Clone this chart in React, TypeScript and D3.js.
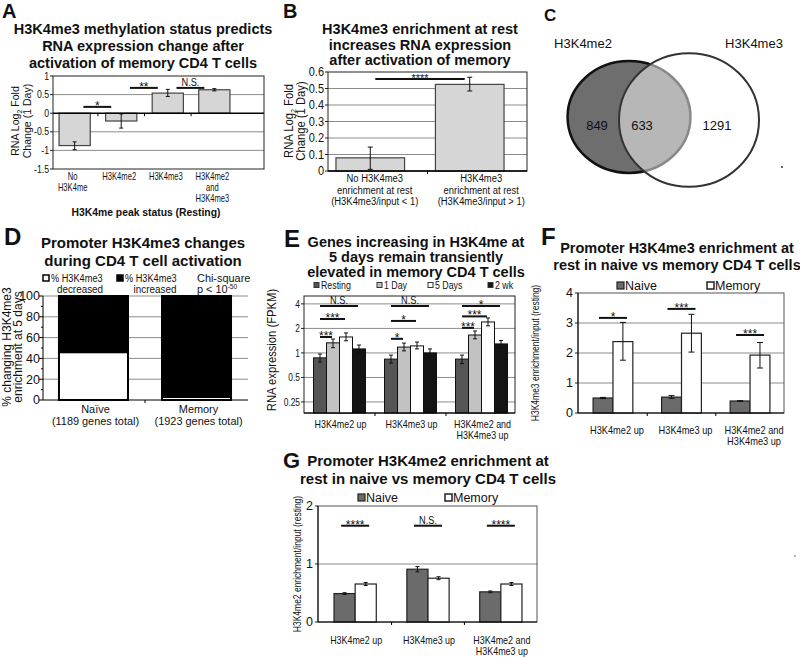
import React from "react";
import * as d3 from "d3";

const SANS = "'Liberation Sans', Arial, Helvetica, sans-serif";
const AXIS = "#222";
const GRID = "#8c8c8c";

// ---------------- Panel A ----------------
const aTitle = ["H3K4me3 methylation status predicts", "RNA expression change after", "activation of memory CD4 T cells"];
const aCategories = ["No H3K4me", "H3K4me2", "H3K4me3", "H3K4me2 and H3K4me3"];
const aCategoryLines = [["No", "H3K4me"], ["H3K4me2"], ["H3K4me3"], ["H3K4me2", "and", "H3K4me3"]];
const aValues = [-0.87, -0.21, 0.54, 0.63];
const aErrLow = [-0.98, -0.4, 0.45, 0.6];
const aErrHigh = [-0.77, -0.02, 0.64, 0.66];
const aTicks = [1, 0.5, 0, -0.5, -1, -1.5];
const aGrid = [0.5, -0.5, -1];
const aSigFrom = [0, 1, 2];
const aSigTo = [1, 2, 3];
const aSigLevel = [0.17, 0.68, 0.68];
const aSigLabel = ["*", "**", "N.S."];

// ---------------- Panel B ----------------
const bTitle = ["H3K4me3 enrichment at rest", "increases RNA expression", "after activation of memory"];
const bCategories = ["below", "above"];
const bCategoryLines = [
  ["No H3K4me3", "enrichment at rest", "(H3K4me3/input < 1)"],
  ["H3K4me3", "enrichment at rest", "(H3K4me3/input > 1)"],
];
const bValues = [0.08, 0.525];
const bErrLow = [0.01, 0.485];
const bErrHigh = [0.145, 0.568];
const bTicks = [0, 0.1, 0.2, 0.3, 0.4, 0.5, 0.6];
const bSigLevel = [0.557];
const bSigLabel = ["****"];

// ---------------- Panel C ----------------
const vennSetNames = ["H3K4me2", "H3K4me3"];
const vennRegionCounts = [849, 633, 1291];

// ---------------- Panel D ----------------
const dTitle = ["Promoter H3K4me3 changes", "during CD4 T cell activation"];
const dCategories = ["Naïve", "Memory"];
const dGeneTotals = [1189, 1923];
const dDecreased = [46, 3];
const dIncreased = [54, 97];
const dTicks = [0, 20, 40, 60, 80, 100];

// ---------------- Panel E ----------------
const eTitle = ["Genes increasing in H3K4me at", "5 days remain transiently", "elevated in memory CD4 T cells"];
const eGroups = ["H3K4me2 up", "H3K4me3 up", "H3K4me2 and H3K4me3 up"];
const eGroupLines = [["H3K4me2 up"], ["H3K4me3 up"], ["H3K4me2 and", "H3K4me3 up"]];
const eSeries = ["Resting", "1 Day", "5 Days", "2 wk"];
const eResting = [0.87, 0.84, 0.84];
const eRestingLow = [0.77, 0.75, 0.74];
const eRestingHigh = [0.97, 0.94, 0.94];
const eDay1 = [1.33, 1.18, 1.66];
const eDay1Low = [1.16, 1.06, 1.49];
const eDay1High = [1.48, 1.32, 1.86];
const eDay5 = [1.57, 1.22, 2.4];
const eDay5Low = [1.41, 1.12, 2.15];
const eDay5High = [1.76, 1.36, 2.69];
const eWeek2 = [1.12, 1.0, 1.29];
const eWeek2Low = [1.0, 0.89, 1.15];
const eWeek2High = [1.25, 1.12, 1.42];
const eTicks = [4, 2, 1, 0.5, 0.25];
const eSigGroup = [0, 0, 0, 1, 1, 1, 2, 2, 2];
const eSigTo = [3, 2, 1, 3, 2, 1, 3, 2, 1];
const eSigLevel = [3.78, 2.61, 1.57, 3.78, 2.47, 1.49, 3.78, 2.81, 2.03];
const eSigLabel = ["N.S.", "***", "***", "N.S.", "*", "*", "*", "***", "***"];

// ---------------- Panel F ----------------
const fTitle = ["Promoter H3K4me3 enrichment at", "rest in naive vs memory CD4 T cells"];
const fSeries = ["Naive", "Memory"];
const fNaive = [0.5, 0.53, 0.4];
const fNaiveLow = [0.48, 0.49, 0.39];
const fNaiveHigh = [0.52, 0.58, 0.41];
const fMemory = [2.38, 2.66, 1.93];
const fMemoryLow = [1.76, 2.03, 1.5];
const fMemoryHigh = [3.02, 3.29, 2.35];
const fTicks = [0, 1, 2, 3, 4];
const fSigLevel = [3.17, 3.47, 2.6];
const fSigLabel = ["*", "***", "***"];

// ---------------- Panel G ----------------
const gTitle = ["Promoter H3K4me2 enrichment at", "rest in naive vs memory CD4 T cells"];
const gNaive = [0.49, 0.91, 0.52];
const gNaiveLow = [0.475, 0.865, 0.505];
const gNaiveHigh = [0.505, 0.955, 0.535];
const gMemory = [0.655, 0.755, 0.655];
const gMemoryLow = [0.63, 0.73, 0.63];
const gMemoryHigh = [0.68, 0.78, 0.68];
const gTicks = [0, 1, 2];
const gSigLevel = [1.66, 1.66, 1.66];
const gSigLabel = ["****", "N.S.", "****"];

function T({ x, y, children, size = 11, anchor = "start", sx = 1, bold = false, rotate = false, dy }: any) {
  const tr = `translate(${x},${y})` + (rotate ? " rotate(-90)" : "") + (sx !== 1 ? ` scale(${sx},1)` : "");
  return (
    <text transform={tr} textAnchor={anchor} fontSize={size} fontFamily={SANS} fontWeight={bold ? "bold" : undefined} dy={dy} fill="#111">
      {children}
    </text>
  );
}

function ErrorBar({ x, y1, y2, cap = 4 }: { x: number; y1: number; y2: number; cap?: number }) {
  return (
    <g stroke="#111" strokeWidth={1}>
      <line x1={x} x2={x} y1={y1} y2={y2} />
      <line x1={x - cap / 2} x2={x + cap / 2} y1={y1} y2={y1} />
      <line x1={x - cap / 2} x2={x + cap / 2} y1={y2} y2={y2} />
    </g>
  );
}

function Sig({ x1, x2, y, label, size = 12 }: { x1: number; x2: number; y: number; label: string; size?: number }) {
  const star = label.indexOf("*") >= 0;
  return (
    <g>
      <line x1={x1} x2={x2} y1={y} y2={y} stroke="#111" strokeWidth={2} />
      {star ? (
        <T x={(x1 + x2) / 2} y={y + 3} anchor="middle" size={size}>{label}</T>
      ) : (
        <T x={(x1 + x2) / 2} y={y - 2} anchor="middle" size={size - 0.5} sx={0.8}>{label}</T>
      )}
    </g>
  );
}

function Title({ lines, cx, y0, dy, size }: { lines: string[]; cx: number; y0: number; dy: number; size: number }) {
  return (
    <g>
      {lines.map((t, i) => (
        <T key={i} x={cx} y={y0 + i * dy} anchor="middle" bold size={size}>{t}</T>
      ))}
    </g>
  );
}

function PanelA() {
  const left = 53, right = 264;
  const x = d3.scaleBand<string>().domain(aCategories).range([53, 236]).paddingInner(0.33).paddingOuter(0.13);
  const y = d3.scaleLinear().domain([-1.5, 1]).range([169, 76]);
  const bw = x.bandwidth();
  const top = y(1), bottom = y(-1.5);
  return (
    <g>
      <T x={2} y={18} bold size={20}>A</T>
      <Title lines={aTitle} cx={143} y0={33.5} dy={17.2} size={14.5} />
      {aGrid.map((v) => (
        <line key={v} x1={left} x2={right} y1={y(v)} y2={y(v)} stroke={GRID} />
      ))}
      <rect x={left} y={top} width={right - left} height={bottom - top} fill="none" stroke={AXIS} />
      {aTicks.map((t) => (
        <g key={t}>
          <line x1={left - 3} x2={left} y1={y(t)} y2={y(t)} stroke={AXIS} />
          <T x={left - 4} y={y(t)} dy="0.35em" anchor="end" size={10.5} sx={0.83}>{String(t)}</T>
        </g>
      ))}
      {aCategories.map((c, i) => {
        const v = aValues[i];
        const x0 = x(c)!;
        return (
          <g key={c}>
            <rect x={x0} y={Math.min(y(0), y(v))} width={bw} height={Math.abs(y(v) - y(0))} fill="#d6d6d6" stroke="#444" strokeWidth={1.2} />
            <ErrorBar x={x0 + bw / 2} y1={y(aErrLow[i])} y2={y(aErrHigh[i])} cap={4} />
          </g>
        );
      })}
      <line x1={left} x2={right} y1={y(0)} y2={y(0)} stroke="#000" strokeWidth={1.5} />
      {aCategories.slice(1).map((c) => {
        const bx = x(c)! - (x.step() - bw) / 2;
        return <line key={c} x1={bx} x2={bx} y1={y(0)} y2={y(0) + 3} stroke="#000" />;
      })}
      {aCategoryLines.map((lines, i) =>
        lines.map((t, j) => (
          <T key={i + "-" + j} x={x(aCategories[i])! + bw / 2 - 2} y={180 + j * 10.8} anchor="middle" size={10} sx={0.76}>{t}</T>
        ))
      )}
      {aSigFrom.map((f, i) => (
        <Sig
          key={i}
          x1={x(aCategories[f])! + bw * 0.78}
          x2={x(aCategories[aSigTo[i]])! + bw * 0.18}
          y={y(aSigLevel[i])}
          label={aSigLabel[i]}
          size={12}
        />
      ))}
      <T x={19} y={121} rotate anchor="middle" size={11.5} sx={0.92}>
        RNA Log<tspan dy={3} fontSize={7.5}>2</tspan>
        <tspan dy={-3}> Fold</tspan>
      </T>
      <T x={31} y={121} rotate anchor="middle" size={11.5} sx={0.92}>Change (1 Day)</T>
      <T x={146} y={216} anchor="middle" bold size={11.5} sx={0.9}>H3K4me peak status (Resting)</T>
    </g>
  );
}

function PanelB() {
  const left = 328, right = 527;
  const x = d3.scaleBand<string>().domain(bCategories).range([328, 512]).paddingInner(0.31).paddingOuter(0.08);
  const xl = d3.scaleBand<string>().domain(bCategories).range([left, right]);
  const y = d3.scaleLinear().domain([0, 0.6]).range([171, 72]);
  const bw = x.bandwidth();
  return (
    <g>
      <T x={283} y={18} bold size={20}>B</T>
      <Title lines={bTitle} cx={420} y0={34} dy={15.5} size={14.5} />
      {bTicks.slice(1, -1).map((v) => (
        <line key={v} x1={left} x2={right} y1={y(v)} y2={y(v)} stroke={GRID} />
      ))}
      <rect x={left} y={y(0.6)} width={right - left} height={y(0) - y(0.6)} fill="none" stroke={AXIS} />
      {bTicks.map((t) => (
        <g key={t}>
          <line x1={left - 3} x2={left} y1={y(t)} y2={y(t)} stroke={AXIS} />
          <T x={left - 4} y={y(t)} dy="0.35em" anchor="end" size={12.5} sx={0.88}>{String(t)}</T>
        </g>
      ))}
      {bCategories.map((c, i) => (
        <g key={c}>
          <rect x={x(c)!} y={y(bValues[i])} width={bw} height={y(0) - y(bValues[i])} fill="#d6d6d6" stroke="#444" strokeWidth={1.2} />
          <ErrorBar x={x(c)! + bw / 2} y1={y(bErrLow[i])} y2={y(bErrHigh[i])} cap={5} />
        </g>
      ))}
      <line x1={left} x2={right} y1={y(0)} y2={y(0)} stroke="#000" strokeWidth={1.3} />
      <line x1={xl("above")!} x2={xl("above")!} y1={y(0)} y2={y(0) + 3} stroke="#000" />
      {bCategoryLines.map((lines, i) =>
        lines.map((t, j) => (
          <T key={i + "-" + j} x={xl(bCategories[i])! + xl.bandwidth() / 2 + (i === 0 ? -3 : 4)} y={182 + j * 11.5} anchor="middle" size={11.5} sx={0.82}>{t}</T>
        ))
      )}
      <Sig x1={x("below")! + bw / 2 + 5} x2={x("above")! + bw / 2 - 5} y={y(bSigLevel[0])} label={bSigLabel[0]} size={11} />
      <T x={293} y={121} rotate anchor="middle" size={12.5} sx={0.9}>
        RNA Log<tspan dy={3} fontSize={8}>2</tspan>
        <tspan dy={-3}> Fold</tspan>
      </T>
      <T x={305} y={121} rotate anchor="middle" size={12.5} sx={0.9}>Change (1 Day)</T>
    </g>
  );
}

function PanelC() {
  const totals = [vennRegionCounts[0] + vennRegionCounts[1], vennRegionCounts[1] + vennRegionCounts[2]];
  const r = d3.scaleSqrt().domain([0, d3.max(totals)!]).range([0, 70]);
  const rl = r(totals[0]), rr = r(totals[1]);
  return (
    <g>
      <T x={544} y={21} bold size={17}>C</T>
      <T x={583} y={48} anchor="middle" size={13}>{vennSetNames[0]}</T>
      <T x={754} y={48} anchor="middle" size={13}>{vennSetNames[1]}</T>
      <ellipse cx={629} cy={117} rx={rl} ry={rl * 0.91} fill="#6e6e6e" stroke="#111" strokeWidth={2.5} />
      <ellipse cx={689} cy={120} rx={rr} ry={rr * 0.955} fill="#fff" fillOpacity={0.5} stroke="#333" strokeWidth={2} />
      <T x={597} y={129.5} anchor="middle" size={13}>{vennRegionCounts[0]}</T>
      <T x={642} y={129.5} anchor="middle" size={13}>{vennRegionCounts[1]}</T>
      <T x={717} y={129.5} anchor="middle" size={13}>{vennRegionCounts[2]}</T>
      <circle cx={782} cy={167} r={1} fill="#333" />
    </g>
  );
}

function PanelD() {
  const left = 43, right = 248;
  const x = d3.scaleBand<string>().domain(dCategories).range([43, 247]).paddingInner(0.33).paddingOuter(0.155);
  const y = d3.scaleLinear().domain([0, 100]).range([400, 296]);
  const bw = x.bandwidth();
  const minor = d3.range(0, 101, 10);
  return (
    <g>
      <T x={4} y={245} bold size={24}>D</T>
      <Title lines={dTitle} cx={143} y0={248} dy={17.5} size={15} />
      <rect x={43} y={275} width={6} height={6} fill="#fff" stroke="#000" strokeWidth={1.5} />
      <T x={51} y={281.5} size={11.5} sx={0.8}>% H3K4me3</T>
      <T x={80} y={293} anchor="middle" size={11.5} sx={0.86}>decreased</T>
      <rect x={117} y={275} width={6} height={6} fill="#000" stroke="#000" strokeWidth={1.5} />
      <T x={125} y={281.5} size={11.5} sx={0.8}>% H3K4me3</T>
      <T x={155} y={293} anchor="middle" size={11.5} sx={0.86}>increased</T>
      <T x={197} y={281.5} size={11.5} sx={0.95}>Chi-square</T>
      <T x={197} y={293} size={11.5} sx={0.95}>
        p &lt; 10<tspan dy={-4} fontSize={7}>-50</tspan>
      </T>
      {dTicks.slice(1).map((v) => (
        <line key={v} x1={left} x2={right} y1={y(v)} y2={y(v)} stroke={GRID} />
      ))}
      {dCategories.map((c, i) => (
        <g key={c}>
          <rect x={x(c)!} y={y(dDecreased[i])} width={bw} height={y(0) - y(dDecreased[i])} fill="#fff" stroke="#000" strokeWidth={2} />
          <rect x={x(c)!} y={y(100)} width={bw} height={y(dDecreased[i]) - y(100)} fill="#000" stroke="#000" strokeWidth={2} />
        </g>
      ))}
      <line x1={left} x2={left} y1={y(0)} y2={y(100)} stroke="#000" />
      <line x1={left} x2={right} y1={y(0)} y2={y(0)} stroke="#000" />
      <line x1={x("Memory")! - (x.step() - bw) / 2} x2={x("Memory")! - (x.step() - bw) / 2} y1={y(0)} y2={y(0) + 3} stroke="#000" />
      {minor.map((t) => (
        <line key={t} x1={left - (t % 20 === 0 ? 4 : 2)} x2={left} y1={y(t)} y2={y(t)} stroke="#000" />
      ))}
      {dTicks.map((t) => (
        <T key={t} x={left - 3} y={y(t)} dy="0.35em" anchor="end" size={12.5}>{t}</T>
      ))}
      {dCategories.map((c, i) => (
        <g key={c}>
          <T x={x(c)! + bw / 2 + 2} y={413} anchor="middle" size={11.5} sx={0.95}>{c}</T>
          <T x={x(c)! + bw / 2 + 2} y={425} anchor="middle" size={11.5} sx={0.95}>
            ({dGeneTotals[i]} genes total)
          </T>
        </g>
      ))}
      <T x={10.5} y={347} rotate anchor="middle" size={12}>% changing H3K4me3</T>
      <T x={22} y={347} rotate anchor="middle" size={12}>enrichment at 5 days</T>
    </g>
  );
}

function PanelE() {
  const left = 304, right = 515, top = 296, bottom = 413;
  const x0 = d3.scaleBand<string>().domain(eGroups).range([304, 517]).paddingInner(0.268).paddingOuter(0.134);
  const x1 = d3.scaleBand<string>().domain(eSeries).range([0, x0.bandwidth()]);
  const y = d3.scaleLog().base(2).domain([0.183, 5.0]).range([bottom, top]);
  const vals = [eResting, eDay1, eDay5, eWeek2];
  const lows = [eRestingLow, eDay1Low, eDay5Low, eWeek2Low];
  const highs = [eRestingHigh, eDay1High, eDay5High, eWeek2High];
  const fills = ["#555", "#c2c2c2", "#fff", "#141414"];
  const bw = x1.bandwidth();
  const legendX = [314, 377, 428, 488];
  return (
    <g>
      <T x={284} y={247} bold size={24}>E</T>
      <Title lines={eTitle} cx={416} y0={246.5} dy={15} size={14.5} />
      {eSeries.map((s, i) => (
        <g key={s}>
          <rect x={legendX[i]} y={282.5} width={5} height={5} fill={fills[i]} stroke="#333" strokeWidth={1} />
          <T x={legendX[i] + 7} y={289} size={11} sx={0.8}>{s}</T>
        </g>
      ))}
      {eTicks.map((v) => (
        <line key={v} x1={left} x2={right} y1={y(v)} y2={y(v)} stroke={GRID} />
      ))}
      <rect x={left} y={top} width={right - left} height={bottom - top} fill="none" stroke={AXIS} />
      {eTicks.map((t) => (
        <g key={t}>
          <line x1={left - 3} x2={left} y1={y(t)} y2={y(t)} stroke={AXIS} />
          <T x={left - 4} y={y(t)} dy="0.35em" anchor="end" size={10.5} sx={0.8}>{String(t)}</T>
        </g>
      ))}
      {eGroups.map((g, gi) =>
        eSeries.map((s, si) => {
          const bx = x0(g)! + x1(s)!;
          const v = vals[si][gi];
          return (
            <g key={g + s}>
              <rect x={bx} y={y(v)} width={bw} height={bottom - y(v)} fill={fills[si]} stroke="#111" strokeWidth={1} />
              <ErrorBar x={bx + bw / 2} y1={y(lows[si][gi])} y2={y(highs[si][gi])} cap={4} />
            </g>
          );
        })
      )}
      <line x1={left} x2={right} y1={bottom} y2={bottom} stroke="#000" />
      {eGroups.slice(1).map((g) => {
        const bx = x0(g)! - (x0.step() - x0.bandwidth()) / 2;
        return <line key={g} x1={bx} x2={bx} y1={bottom} y2={bottom + 3} stroke="#000" />;
      })}
      {eSigGroup.map((g, i) => {
        const gx = x0(eGroups[g])!;
        return (
          <Sig
            key={i}
            x1={gx + x1(eSeries[0])! + bw / 2}
            x2={gx + x1(eSeries[eSigTo[i]])! + bw / 2 - 1}
            y={y(eSigLevel[i])}
            label={eSigLabel[i]}
            size={12}
          />
        );
      })}
      {eGroupLines.map((lines, i) =>
        lines.map((t, j) => (
          <T key={i + "-" + j} x={x0(eGroups[i])! + x0.bandwidth() / 2 + 1} y={428 + j * 11} anchor="middle" size={10.5} sx={0.85}>{t}</T>
        ))
      )}
      <T x={276} y={350} rotate anchor="middle" size={12.5} sx={0.9}>RNA expression (FPKM)</T>
    </g>
  );
}

function GroupedPanel({
  left, right, top, bottom, yMax, ticks, grid, naive, naiveLow, naiveHigh, memory, memoryLow, memoryHigh,
  sigLevel, sigLabel, yLabel, yLabelX, labelY, labelShift, labelSx, cap,
}: any) {
  const x0 = d3.scaleBand<string>().domain(eGroups).range([left, right + 1]).paddingInner(0.42).paddingOuter(0.22);
  const x1 = d3.scaleBand<string>().domain(fSeries).range([0, x0.bandwidth()]);
  const y = d3.scaleLinear().domain([0, yMax]).range([bottom, top]);
  const bw = x1.bandwidth();
  const vals = [naive, memory];
  const lows = [naiveLow, memoryLow];
  const highs = [naiveHigh, memoryHigh];
  const fills = ["#6b6b6b", "#fff"];
  return (
    <g>
      {grid.map((v: number) => (
        <line key={v} x1={left} x2={right} y1={y(v)} y2={y(v)} stroke={GRID} />
      ))}
      <rect x={left} y={top} width={right - left} height={bottom - top} fill="none" stroke="#555" />
      {ticks.map((t: number) => (
        <g key={t}>
          <line x1={left - 3} x2={left} y1={y(t)} y2={y(t)} stroke={AXIS} />
          <T x={left - 5} y={y(t)} dy="0.35em" anchor="end" size={12.5}>{String(t)}</T>
        </g>
      ))}
      {eGroups.map((g, gi) =>
        fSeries.map((s, si) => {
          const bx = x0(g)! + x1(s)!;
          const v = vals[si][gi];
          return (
            <g key={g + s}>
              <rect x={bx} y={y(v)} width={bw} height={bottom - y(v)} fill={fills[si]} stroke="#222" strokeWidth={1.2} />
              <ErrorBar x={bx + bw / 2} y1={y(lows[si][gi])} y2={y(highs[si][gi])} cap={cap} />
            </g>
          );
        })
      )}
      <line x1={left} x2={right} y1={bottom} y2={bottom} stroke="#000" />
      <line x1={left} x2={left} y1={bottom} y2={top} stroke="#000" />
      {eGroups.slice(1).map((g) => {
        const bx = x0(g)! - (x0.step() - x0.bandwidth()) / 2;
        return <line key={g} x1={bx} x2={bx} y1={bottom} y2={bottom + 3} stroke="#000" />;
      })}
      {eGroups.map((g, i) => {
        const cx = x0(g)! + x0.bandwidth() / 2;
        return <Sig key={g} x1={cx - 14} x2={cx + 14} y={y(sigLevel[i])} label={sigLabel[i]} size={12} />;
      })}
      {eGroupLines.map((lines, i) =>
        lines.map((t, j) => (
          <T key={i + "-" + j} x={x0(eGroups[i])! + x0.bandwidth() / 2 + labelShift} y={labelY + j * 11} anchor="middle" size={10.5} sx={labelSx}>{t}</T>
        ))
      )}
      <T x={yLabelX} y={(top + bottom) / 2} rotate anchor="middle" size={10} sx={0.85}>{yLabel}</T>
    </g>
  );
}

function Legend2({ x1, x2, y }: { x1: number; x2: number; y: number }) {
  return (
    <g>
      <rect x={x1} y={y - 3} width={7} height={7} fill="#6b6b6b" stroke="#222" strokeWidth={1.2} />
      <T x={x1 + 8} y={y + 4.5} size={12.5}>{fSeries[0]}</T>
      <rect x={x2} y={y - 3} width={7} height={7} fill="#fff" stroke="#222" strokeWidth={1.5} />
      <T x={x2 + 8} y={y + 4.5} size={12.5}>{fSeries[1]}</T>
    </g>
  );
}

function PanelF() {
  return (
    <g>
      <T x={541} y={245} bold size={24}>F</T>
      <Title lines={fTitle} cx={677} y0={253} dy={17} size={14.5} />
      <Legend2 x1={617} x2={707} y={285} />
      <GroupedPanel
        left={578} right={784} top={293} bottom={413} yMax={4} ticks={fTicks} grid={[1, 2, 3]}
        naive={fNaive} naiveLow={fNaiveLow} naiveHigh={fNaiveHigh}
        memory={fMemory} memoryLow={fMemoryLow} memoryHigh={fMemoryHigh}
        sigLevel={fSigLevel} sigLabel={fSigLabel}
        yLabel="H3K4me3 enrichment/input (resting)" yLabelX={539} labelY={434} labelShift={4} labelSx={0.88} cap={6}
      />
    </g>
  );
}

function PanelG() {
  return (
    <g>
      <T x={283} y={468} bold size={22}>G</T>
      <Title lines={gTitle} cx={428} y0={466} dy={18} size={15} />
      <Legend2 x1={358} x2={445} y={497} />
      <GroupedPanel
        left={318} right={537} top={506} bottom={622} yMax={2} ticks={gTicks} grid={[1]}
        naive={gNaive} naiveLow={gNaiveLow} naiveHigh={gNaiveHigh}
        memory={gMemory} memoryLow={gMemoryLow} memoryHigh={gMemoryHigh}
        sigLevel={gSigLevel} sigLabel={gSigLabel}
        yLabel="H3K4me2 enrichment/input (resting)" yLabelX={301} labelY={644} labelShift={1} labelSx={0.85} cap={4}
      />
      <circle cx={795} cy={556} r={0.8} fill="#555" />
    </g>
  );
}

export default function App() {
  return (
    <svg width={800} height={657} viewBox="0 0 800 657" style={{ position: "absolute", left: 0, top: 0, background: "#fff" }}>
      <rect x={0} y={0} width={800} height={657} fill="#fff" />
      <PanelA />
      <PanelB />
      <PanelC />
      <PanelD />
      <PanelE />
      <PanelF />
      <PanelG />
    </svg>
  );
}
